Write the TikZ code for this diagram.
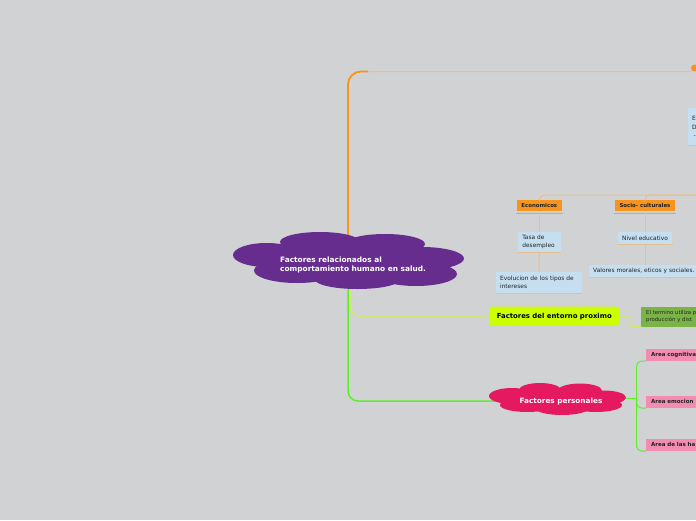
\documentclass[tikz,border=0pt]{standalone}
\usepackage{fontspec}
\setmainfont{DejaVu Sans}
\definecolor{bg}{HTML}{D1D2D4}
\definecolor{purp}{HTML}{662D8E}
\definecolor{crim}{HTML}{E5195F}
\definecolor{orng}{HTML}{F7941D}
\definecolor{pale}{HTML}{E9C08C}
\definecolor{lblue}{HTML}{C5DFF1}
\definecolor{lime}{HTML}{CCFF00}
\definecolor{limeline}{HTML}{D5EE55}
\definecolor{grline}{HTML}{5FEE2A}
\definecolor{olive}{HTML}{7AB446}
\definecolor{pinkbox}{HTML}{F28CB1}
\definecolor{txt}{HTML}{222222}
\begin{document}
\begin{tikzpicture}[x=1pt,y=-1pt,
  paleline/.style={draw=pale,line width=1pt},
  catbox/.style={rectangle,fill=orng,inner sep=0pt,text=txt,font=\fontsize{5.4}{6.5}\bfseries\selectfont},
  bluebox/.style={rectangle,fill=lblue,inner ysep=0pt,text=txt,align=left,font=\fontsize{5.9}{8}\selectfont},
  pinkb/.style={rectangle,fill=pinkbox,inner sep=0pt,text=txt,font=\fontsize{5.5}{6.5}\bfseries\selectfont},
  cloudtxt/.style={text=white,font=\fontsize{7.4}{9}\bfseries\selectfont,inner sep=0pt}]
\path[use as bounding box,fill=bg] (0,0) rectangle (696,520);
\clip (0,0) rectangle (696,520);

% ---------- nodes ----------
\node[catbox,minimum width=45,minimum height=11.5] (eco) at (539.3,205.7) {Economicos};
\node[catbox,minimum width=60,minimum height=11.5] (soc) at (645,205.7) {Socio- culturales};
\node[bluebox,inner xsep=4.5pt,text width=34,minimum height=20] (tasa) at (539.3,241.8) {Tasa de\\desempleo};
\node[bluebox,inner xsep=4pt,text width=77.7,minimum height=20.4] (evo) at (538.9,282.5) {Evolucion de los tipos de\\intereses};
\node[bluebox,inner xsep=0pt,align=center,minimum width=54.6,minimum height=12.6] (niv) at (645,238) {Nivel educativo};
\node[bluebox,anchor=west,inner xsep=4pt,text width=120,minimum height=12.3] (val) at (589,271.2) {Valores morales, eticos y sociales.};
\node[bluebox,anchor=north west,inner xsep=4pt,text width=50,minimum height=37,align=left,font=\fontsize{5.9}{8}\selectfont] (top) at (688,108) {\vspace{1pt}E\\D\\\hspace{1.5pt}-};
\node[rectangle,fill=lime,rounded corners=3pt,minimum width=130,minimum height=19,inner sep=0pt,text=black,font=\fontsize{6.9}{8}\bfseries\selectfont] (ent) at (554.3,316.2) {Factores del entorno proximo};
\node[rectangle,fill=olive,anchor=west,minimum width=70,minimum height=20,inner xsep=4pt,text width=60,align=left,text=txt,font=\fontsize{5.3}{6.6}\selectfont] (term) at (641,316.7) {El termino utiliza p\\producción y dist};
\node[pinkb,anchor=south west,minimum width=60,minimum height=12,inner xsep=4pt,align=left,text width=50] (cog) at (646,361) {Area cognitiva};
\node[pinkb,anchor=south west,minimum width=60,minimum height=12,inner xsep=4pt,align=left,text width=50] (emo) at (646,408) {Area emocion};
\node[pinkb,anchor=south west,minimum width=60,minimum height=12,inner xsep=4pt,align=left,text width=50] (hab) at (646,451) {Area de las ha};

% underlines
\draw[orng!75!pale,line width=1.2pt] ([xshift=-1pt,yshift=-1.5pt]eco.south west) -- ([xshift=1pt,yshift=-1.5pt]eco.south east);
\draw[orng!75!pale,line width=1.2pt] ([xshift=-1pt,yshift=-1.5pt]soc.south west) -- ([xshift=1pt,yshift=-1.5pt]soc.south east);
\foreach \n in {tasa,evo,niv,val,top}{\draw[pale,line width=0.8pt] (\n.south west) -- (\n.south east);}

% ---------- coordinates ----------
\coordinate (ctr) at (348,260);
\coordinate (dot) at (695,68);
\coordinate (rt) at (700,195);
\coordinate (pers) at (561,401);
\coordinate (persE) at (620,398);
\coordinate (brk) at (636.5,398);

% ---------- connectors ----------
\draw[paleline,rounded corners=13pt] (ctr) |- ([xshift=-4pt,yshift=-3.5pt]dot);
\draw[orng,line width=1.8pt,rounded corners=13pt] (ctr) |- (368,71.5);
\fill[orng] (dot) ellipse[x radius=4,y radius=3.5];
\draw[paleline,rounded corners=5pt] (rt) -| (eco.north);
\draw[paleline,rounded corners=5pt] (rt) -| (soc.north);
\draw[paleline] (eco.south) -- (tasa.north);
\draw[paleline] (tasa.south) -- (evo.north);
\draw[paleline] (soc.south) -- (niv.north);
\draw[paleline] (niv.south) -- (val.north -| niv.south);
\draw[limeline,line width=1pt,rounded corners=10pt] (350,280) |- (ent.west);
\draw[limeline,line width=0.9pt,rounded corners=3pt] (ent.east) -- (630,316.2) |- (term.south west);
\draw[grline,line width=1.5pt,rounded corners=10pt] (ctr) |- (pers);
\draw[grline,line width=1pt] (persE) -- (brk);
\draw[grline,line width=1pt,rounded corners=5pt] (brk) |- (cog.south west);
\draw[grline,line width=1pt,rounded corners=5pt] (brk) |- (emo.south west);
\draw[grline,line width=1pt,rounded corners=5pt] (brk) |- (hab.south west);

% ---------- clouds ----------
\begin{scope}[fill=purp]
\fill (320,242) ellipse[x radius=40,y radius=10];
\fill (385,244) ellipse[x radius=40,y radius=10];
\fill (266.5,255) ellipse[x radius=33.5,y radius=12];
\fill (422,258.5) ellipse[x radius=42,y radius=11.5];
\fill (297,270.5) ellipse[x radius=43,y radius=12.5];
\fill (357.5,279.5) ellipse[x radius=42.5,y radius=9.5];
\fill (416,274) ellipse[x radius=41,y radius=12];
\fill (285,248) rectangle (425,275);
\end{scope}
\node[cloudtxt,anchor=west,align=left] (cent) at (280,265) {Factores relacionados al\\comportamiento humano en salud.};

\begin{scope}[fill=crim]
\fill (540,390) ellipse[x radius=21,y radius=7];
\fill (580,390.5) ellipse[x radius=22,y radius=7];
\fill (512,396) ellipse[x radius=23,y radius=8];
\fill (604,397.5) ellipse[x radius=22,y radius=7];
\fill (527,405) ellipse[x radius=27,y radius=7];
\fill (562,408) ellipse[x radius=27,y radius=7];
\fill (596,405) ellipse[x radius=26,y radius=7];
\fill (515,391) rectangle (605,408);
\end{scope}
\node[cloudtxt,font=\fontsize{7.3}{9}\bfseries\selectfont] (persT) at (pers) {Factores personales};
\end{tikzpicture}
\end{document}
